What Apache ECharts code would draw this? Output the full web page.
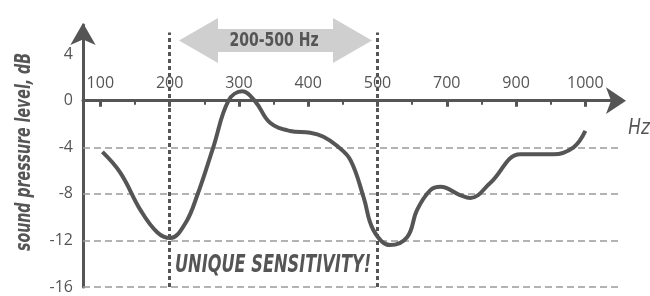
<!DOCTYPE html>
<html>
<head>
<meta charset="utf-8">
<script src="https://cdn.jsdelivr.net/npm/echarts@6/dist/echarts.min.js"></script>
<style>
  html, body { margin: 0; padding: 0; background: #fff; }
  #chart { width: 650px; height: 296px; }
</style>
</head>
<body>
<div id="chart"></div>
<script>
// x positions are category slots: 0 = 100 Hz ... 7 = 1000 Hz
const freqLabels = ["100", "200", "300", "400", "500", "700", "900", "1000"];
const labelSlots = [0, 1, 2, 3, 4, 5, 6, 7];
const minorSlots = [0.5, 1.5, 2.5, 3.5, 4.5, 5.5, 6.5];
const curveX = [0.03, 0.29, 0.58, 0.82, 1.01, 1.23, 1.4, 1.63, 1.85, 2.05, 2.24, 2.45, 2.74, 3.03, 3.22,
  3.42, 3.61, 3.8, 3.94, 4.18, 4.43, 4.57, 4.76, 4.91, 5.19, 5.34, 5.63, 6.06, 6.54, 6.83, 7.0];
const curveDb = [-4.4, -6.2, -9.4, -11.3, -11.8, -10.5, -8.1, -4.0, 0, 0.8, -0.1, -1.9, -2.6, -2.75, -3.1,
  -3.9, -5.1, -8.3, -11.1, -12.4, -11.7, -9.4, -7.7, -7.4, -8.1, -8.35, -7.05, -4.6, -4.6, -4.0, -2.6];
const gridDb = [-4, -8, -12, -16];
const rangeSlots = [1, 4]; // 200 Hz and 500 Hz
const rangeTop = 5.85;

const INK = "#555555";
const NARROW = '"DejaVu Sans Condensed", sans-serif';

let chart = echarts.init(document.getElementById("chart"));

// y = 0 sits this many px below the grid top (max 6.5 of a 22.5 span, 262 px tall)
const zeroOffset = (6.5 / 22.5) * 262;

let option = {
  animation: false,
  grid: { left: 83, right: 30, top: 25, bottom: 9 },
  xAxis: [
    {
      type: "value",
      position: "top",
      offset: -zeroOffset,
      min: -0.25,
      max: 7.5,
      axisLine: {
        onZero: false,
        symbol: ["none", "arrow"],
        symbolSize: [20, 20],
        symbolOffset: [0, 6],
        lineStyle: { color: INK, width: 3 },
      },
      axisTick: {
        customValues: labelSlots,
        inside: true,
        length: 6,
        lineStyle: { color: INK, width: 3 },
      },
      axisLabel: {
        customValues: labelSlots,
        margin: 9,
        color: INK,
        fontFamily: "Open Sans",
        fontSize: 16,
        formatter: (v) => freqLabels[Math.round(v)],
      },
      splitLine: { show: false },
    },
    {
      type: "value",
      position: "top",
      offset: -zeroOffset,
      min: -0.25,
      max: 7.5,
      axisLine: { show: false, onZero: false },
      axisTick: {
        customValues: minorSlots,
        inside: true,
        length: 4,
        lineStyle: { color: INK, width: 2 },
      },
      axisLabel: { show: false },
      splitLine: { show: false },
    },
  ],
  yAxis: {
    type: "value",
    min: -16,
    max: 6.5,
    interval: 4,
    axisLine: {
      show: true,
      onZero: false,
      symbol: ["none", "arrow"],
      symbolSize: [19, 22],
      symbolOffset: [0, 2],
      lineStyle: { color: INK, width: 3 },
    },
    axisTick: { show: false },
    axisLabel: {
      margin: 10,
      color: INK,
      fontFamily: "Open Sans",
      fontSize: 16,
      formatter: (v) => (v % 4 === 0 ? String(v) : ""),
    },
    splitLine: { show: false },
  },
  series: [
    {
      type: "line",
      data: curveX.map((x, k) => [x, curveDb[k]]),
      smooth: 0.4,
      showSymbol: false,
      lineStyle: { color: INK, width: 4 },
      z: 5,
      markLine: {
        silent: true,
        symbol: "none",
        label: { show: false },
        data: [
          ...gridDb.map((v) => ({
            yAxis: v,
            lineStyle: { color: "#9a9a9a", width: 1.5, type: [7, 4] },
          })),
          ...rangeSlots.map((s) => [
            { coord: [s, gridDb[gridDb.length - 1]], lineStyle: { color: INK, width: 3, type: [4, 3] } },
            { coord: [s, rangeTop] },
          ]),
        ],
      },
    },
  ],
  graphic: [
    {
      type: "polygon",
      shape: {
        points: [[179, 40.5], [218, 18], [218, 29], [333, 29], [333, 18], [372, 40.5],
          [333, 63], [333, 52], [218, 52], [218, 63]],
      },
      style: { fill: "#cfcfcf" },
    },
    {
      type: "text",
      x: 274,
      y: 41,
      scaleX: 0.78,
      style: {
        text: "200-500 Hz",
        align: "center",
        verticalAlign: "middle",
        fill: INK,
        font: "bold 20px " + NARROW,
      },
    },
    {
      type: "text",
      x: 273,
      y: 265,
      scaleX: 0.72,
      style: {
        text: "UNIQUE SENSITIVITY!",
        align: "center",
        verticalAlign: "middle",
        fill: INK,
        font: "italic bold 25px " + NARROW,
      },
    },
    {
      type: "text",
      x: 639,
      y: 128,
      scaleX: 0.85,
      style: {
        text: "Hz",
        align: "center",
        verticalAlign: "middle",
        fill: INK,
        font: "italic 22px " + NARROW,
      },
    },
    {
      type: "text",
      x: 25,
      y: 152,
      rotation: Math.PI / 2,
      scaleX: 0.75,
      style: {
        text: "sound pressure level, dB",
        align: "center",
        verticalAlign: "middle",
        fill: INK,
        font: "italic bold 21px " + NARROW,
      },
    },
  ],
};

option && chart.setOption(option);
</script>
</body>
</html>
